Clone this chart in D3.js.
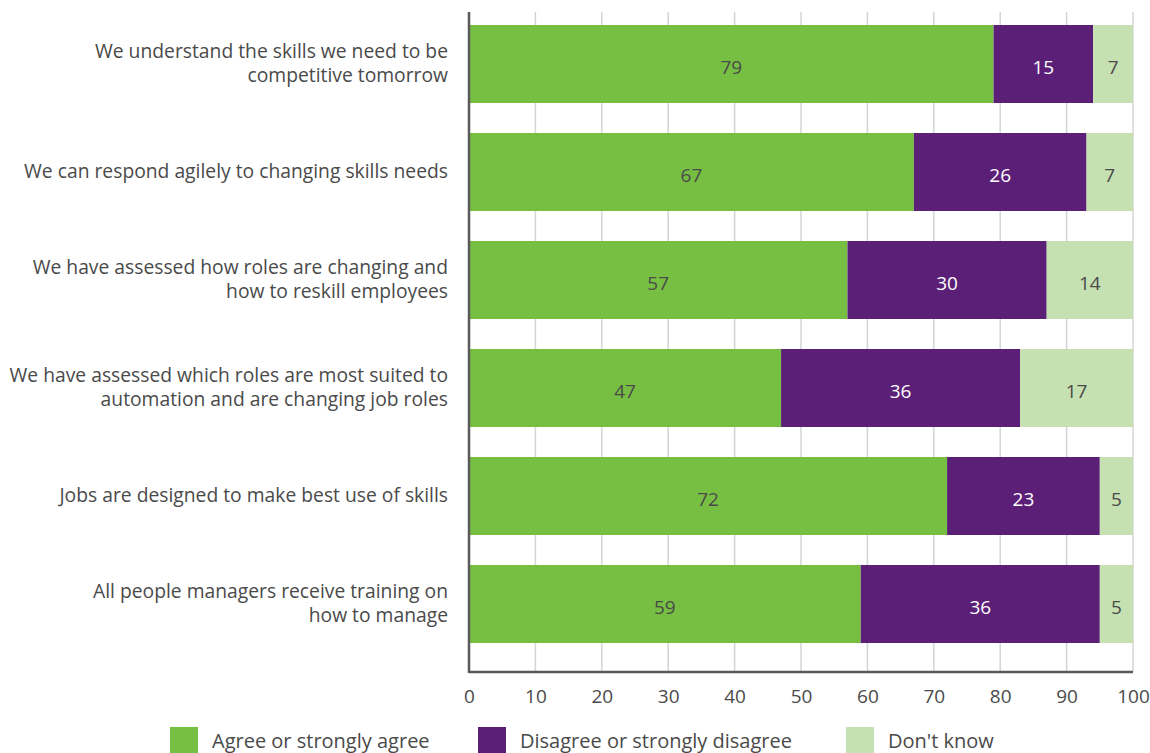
<!DOCTYPE html>
<html>
<head>
<meta charset="utf-8">
<script src="https://cdn.jsdelivr.net/npm/d3@7"></script>
<style>
  html, body { margin: 0; padding: 0; background: #fff; }
  svg { display: block; font-family: "Open Sans", Lato, sans-serif; }
</style>
</head>
<body>
<svg id="chart" width="1150" height="753"></svg>
<script>
// Survey statements (each split over up to two lines)
const statements = [
  ["We understand the skills we need to be", "competitive tomorrow"],
  ["We can respond agilely to changing skills needs"],
  ["We have assessed how roles are changing and", "how to reskill employees"],
  ["We have assessed which roles are most suited to", "automation and are changing job roles"],
  ["Jobs are designed to make best use of skills"],
  ["All people managers receive training on", "how to manage"]
];
const agree    = [79, 67, 57, 47, 72, 59];
const disagree = [15, 26, 30, 36, 23, 36];
const dontKnow = [7, 7, 14, 17, 5, 5];
const seriesNames = ["Agree or strongly agree", "Disagree or strongly disagree", "Don't know"];
const xTicks = [0, 10, 20, 30, 40, 50, 60, 70, 80, 90, 100];

const colors = ["#76bf43", "#5c1f78", "#c6e1b1"];
const labelColors = ["#4a4a4a", "#ffffff", "#4a4a4a"];
const textColor = "#4a4a4a";

const svg = d3.select("#chart");
const plotLeft = 469, plotRight = 1133, plotTop = 12, plotBottom = 671;

const rows = statements.map((s, i) => ({ id: i, agree: agree[i], disagree: disagree[i], dontKnow: dontKnow[i] }));
const keys = ["agree", "disagree", "dontKnow"];
const stacked = d3.stack().keys(keys)(rows);

const x = d3.scaleLinear().domain([0, 100]).range([plotLeft, plotRight]).clamp(true);
const y = d3.scaleBand().domain(d3.range(statements.length)).range([10, 658])
  .paddingInner(30 / 108).paddingOuter(15 / 108);

// vertical gridlines
svg.append("g").selectAll("line").data(xTicks.slice(1)).join("line")
  .attr("x1", d => x(d)).attr("x2", d => x(d))
  .attr("y1", plotTop).attr("y2", plotBottom)
  .attr("stroke", "#d4d4d4").attr("stroke-width", 1.5);

// stacked bars
const layers = svg.append("g").selectAll("g").data(stacked).join("g")
  .attr("fill", (d, i) => colors[i]);
layers.selectAll("rect").data(d => d).join("rect")
  .attr("x", d => x(d[0]))
  .attr("y", d => y(d.data.id))
  .attr("width", d => x(d[1]) - x(d[0]))
  .attr("height", y.bandwidth());

// segment value labels
const vl = svg.append("g").attr("font-size", 19).attr("text-anchor", "middle");
stacked.forEach((layer, li) => {
  vl.append("g").attr("fill", labelColors[li]).selectAll("text").data(layer).join("text")
    .attr("x", d => (x(d[0]) + x(d[1])) / 2)
    .attr("y", d => y(d.data.id) + y.bandwidth() / 2 + 10)
    .text(d => d.data[keys[li]]);
});

// axis lines
svg.append("line").attr("x1", plotLeft).attr("x2", plotLeft).attr("y1", plotTop).attr("y2", plotBottom + 2)
  .attr("stroke", "#5a5a5a").attr("stroke-width", 2.5);
svg.append("line").attr("x1", plotLeft).attr("x2", plotRight).attr("y1", plotBottom + 1).attr("y2", plotBottom + 1)
  .attr("stroke", "#5a5a5a").attr("stroke-width", 2.5);

// x tick labels
const xAxis = d3.axisBottom(x).tickValues(xTicks).tickSize(0).tickPadding(0);
const gx = svg.append("g").attr("transform", `translate(0,${plotBottom})`).call(xAxis);
gx.select(".domain").remove();
gx.selectAll("text").attr("font-size", 19).attr("fill", textColor)
  .attr("font-family", "'Open Sans', Lato, sans-serif")
  .attr("y", 32).attr("dy", 0);

// category labels
const cl = svg.append("g").attr("font-size", 19.3).attr("fill", textColor).attr("text-anchor", "end");
statements.forEach((lines, i) => {
  const cy = y(i) + y.bandwidth() / 2;
  const t = cl.append("text").attr("x", 448).attr("y", cy - (lines.length - 1) * 12 + 6);
  lines.forEach((ln, j) => {
    t.append("tspan").attr("x", 448).attr("dy", j === 0 ? 0 : 24).text(ln);
  });
});

// legend
const legendX = [170, 478, 846];
const lg = svg.append("g").attr("font-size", 20).attr("fill", textColor);
seriesNames.forEach((name, i) => {
  lg.append("rect").attr("x", legendX[i]).attr("y", 727).attr("width", 28).attr("height", 28)
    .attr("fill", colors[i]);
  lg.append("text").attr("x", legendX[i] + 42).attr("y", 748).text(name);
});
</script>
</body>
</html>
